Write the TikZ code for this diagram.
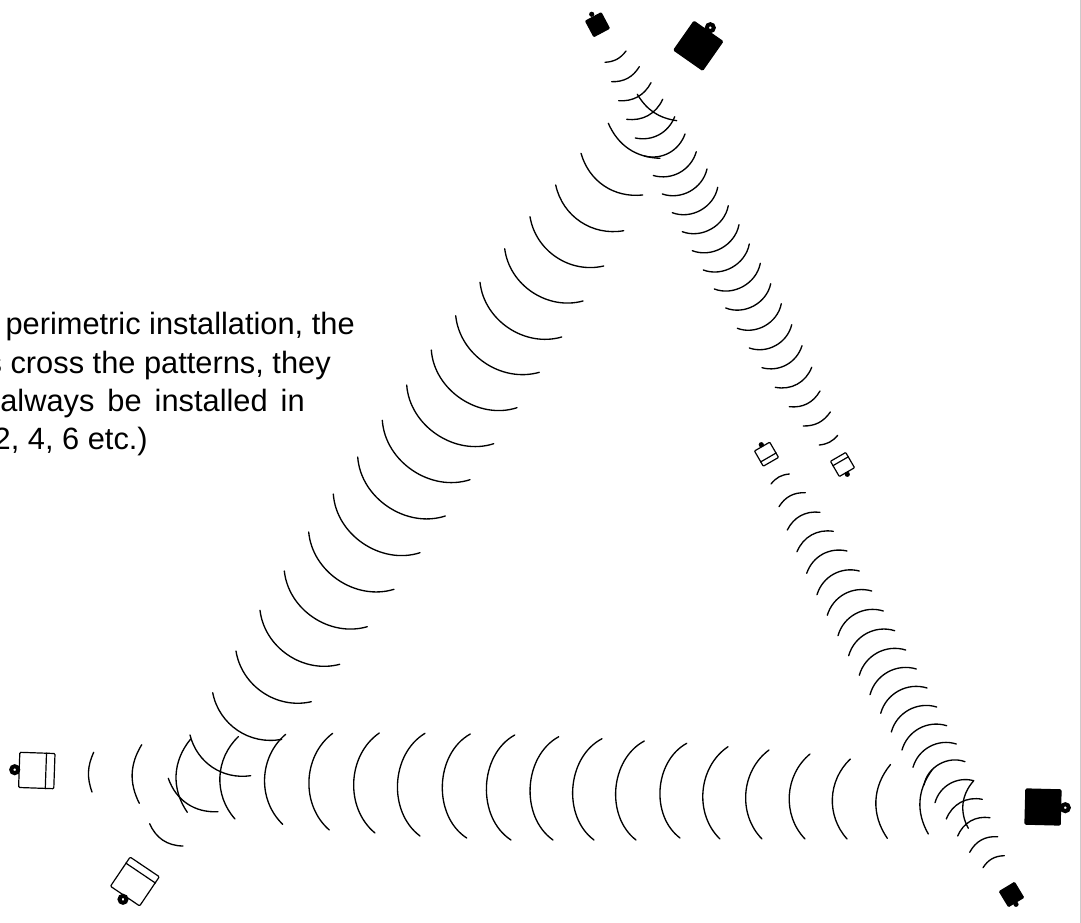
\documentclass[tikz,border=0pt]{standalone}
\usepackage{fontspec}
\setmainfont{Liberation Sans}
\usetikzlibrary{calc}

\begin{document}
\begin{tikzpicture}[
    x=0.75pt, y=-0.75pt,
    wave/.style={line width=1pt, line cap=round},
    bigbox/.style={draw, line width=0.9pt, rounded corners=0.8pt, minimum size=26.4pt, inner sep=0pt},
    smallbox/.style={draw, line width=0.9pt, rounded corners=0.6pt, minimum size=13.2pt, inner sep=0pt},
    bigterm/.style={circle, draw, fill=white, line width=3pt, minimum size=5.2pt, inner sep=0pt},
    smallterm/.style={circle, fill=black, minimum size=3.9pt, inner sep=0pt},
    notetext/.style={anchor=base east, inner sep=0pt, font=\fontsize{23.1pt}{28pt}\selectfont}
]
\useasboundingbox (0,0) rectangle (1081,923);

% ── Note (cut off by the page) ──
\node[notetext] (noteone) at (355,335) {perimetric installation, the};
\node[notetext] (notetwo) at (331,373.3) {s cross the patterns, they};
\node[notetext] (notethree) at (305,411.7) {\spaceskip=9.75pt always be installed in};
\node[notetext] (notefour) at (148,449) {2, 4, 6 etc.)};

% ── Left side beam ──
\foreach \xa/\ya/\xb/\yb/\ang in {
    637.3/94.3/676.7/120.7/25, 608.3/123.3/660/158.3/32, 581/153.3/642.7/195/40,
    555.7/185/623.7/230.7/44, 530/216.7/603.7/266/47, 504.7/248.7/583/301/49,
    480/282.3/561.7/337/50, 455.7/315.7/539.3/372.3/50, 431.3/350/517/407.7/52,
    406.7/385/493.7/443.7/52, 382.3/420.3/470/479.7/52, 357.7/457/445.3/516/52,
    333.3/494/420/552.7/52, 308.7/532/394/589.3/51, 284.3/571/367.3/626.7/50,
    260/610.3/339.7/664.3/49, 236/651/311.3/701.7/47, 212.7/692.7/281.7/739.3/45,
    190/735/250.7/775.7/42, 168.3/778.3/218/811.7/37, 149.7/823.7/183/846/33}
    \draw[wave] (\xa,\ya) to[bend right=\ang] (\xb,\yb);

% ── Bottom beam ──
\foreach \xa/\ya/\xb/\yb/\ang in {
    93.7/752.3/92/792/22, 141.7/744.7/139.3/803.3/29, 190.7/739/187.3/812.3/37,
    238.3/736.7/235/819/44, 285.7/734.3/282.7/824.3/48, 332.7/733.3/329.3/830/51,
    379.3/733/375/833/53, 425/733.3/420/836/56, 470.3/734/466.7/838/59,
    514.7/735/511/840/59, 558.7/736.7/553/840/58, 602/738.7/594/840/58,
    644.3/741/636/840/57, 686.7/743.3/680/838/57, 728/746.7/720/839/51,
    769/750/762/839/49, 810/754/805/839/47, 850.3/759/847/839/44,
    890.5/764.5/887.3/838.3/37, 932/770/928.3/834/33, 973.7/780.7/968.3/828.3/35}
    \draw[wave] (\xa,\ya) to[bend right=\ang] (\xb,\yb);

% ── Right side beam, top half ──
\foreach \xa/\ya/\xb/\yb/\ang in {
    605/62.3/626/51/25, 611.7/81.7/639.3/66.7/30, 618.7/100.7/651/82.7/33,
    626.7/119.3/662.7/99.3/36, 635.3/138/674.7/116.7/40, 644.3/156/685/134/42,
    653.3/175.5/696.3/151.7/45, 662.3/194/707/169/48, 672.3/212.7/717.7/187.3/50,
    682.3/231.7/728.3/205.7/50, 692.3/250.7/739/224.7/50, 703.3/270/749.3/244/50,
    714.3/289/760.3/263.3/50, 725.7/308/770.7/283.7/50, 737.3/328.3/781.3/303.7/50,
    749.3/348/791.7/324.7/48, 762/367.7/802/345.7/44, 775.3/387.3/811.7/367.3/40,
    789.3/406.7/820/391/33, 803.3/426/830.3/412/28, 819.3/445/837.7/435.3/22}
    \draw[wave] (\xa,\ya) to[bend right=\ang] (\xb,\yb);

% ── Right side beam, bottom half ──
\foreach \xa/\ya/\xb/\yb/\ang in {
    771/484/789.3/474/23, 779/506.7/805.3/492.7/30, 787.3/530/820/512.3/35,
    797/551.7/833.3/531.3/38, 806.7/573.3/847/551/42, 817/594.7/859.3/571/44,
    827.3/615.3/871.7/591/45, 838/635.7/883.3/611/46, 848.7/655.7/894.7/630.7/46,
    859.3/675.3/905.7/650/46, 870/694.7/916.3/669/46, 880.7/713.3/927/688/46,
    891.3/732/936.7/707/46, 902/750/946.7/725.7/46, 913/767.3/956.3/744/46,
    924/785/965/761.7/50, 935/802.7/973.7/780.7/45, 946.3/819/982.3/799.3/40,
    957.7/836/990/817.7/38, 969.7/852.3/997.7/836.7/33, 983/867.7/1004.3/855.7/28}
    \draw[wave] (\xa,\ya) to[bend left=\ang] (\xb,\yb);

% ── Black units ──
\node[bigbox, fill=black, rotate=-35] (unittop) at (698.3,45.8) {};
\node[bigterm] (termtop) at (710.3,27.7) {};
\node[smallbox, fill=black, rotate=28] (smalltop) at (597.5,24.7) {};
\node[smallterm] (dottop) at (591.7,14.3) {};
\node[bigbox, fill=black, rotate=-1.5] (unitright) at (1043,807) {};
\node[bigterm] (termright) at (1065.3,807.7) {};
\node[smallbox, fill=black, rotate=31] (smallright) at (1011.5,894.5) {};
\node[smallterm] (dotright) at (1016,904.3) {};

% ── White units ──
\node[bigbox, rotate=-2] (unitleft) at (36.8,770.5) {};
\node[bigterm] (termleft) at (14.7,769.7) {};
\draw[line width=0.9pt] ($(unitleft.north east)!.25!(unitleft.north west)$) -- ($(unitleft.south east)!.25!(unitleft.south west)$);
\node[bigbox, rotate=-34] (unitbottom) at (134.9,881.5) {};
\node[bigterm] (termbottom) at (123,899.3) {};
\draw[line width=0.9pt] ($(unitbottom.north west)!.22!(unitbottom.south west)$) -- ($(unitbottom.north east)!.22!(unitbottom.south east)$);
\node[smallbox, rotate=30] (smallleft) at (766.5,454.2) {};
\node[smallterm] (dotleft) at (761.3,444.7) {};
\draw[line width=0.9pt] ($(smallleft.south west)!.3!(smallleft.north west)$) -- ($(smallleft.south east)!.3!(smallleft.north east)$);
\node[smallbox, rotate=30] (smallmid) at (842.5,464.5) {};
\node[smallterm] (dotmid) at (847.3,474.3) {};
\draw[line width=0.9pt] ($(smallmid.north west)!.3!(smallmid.south west)$) -- ($(smallmid.north east)!.3!(smallmid.south east)$);

% ── Page edge ──
\draw[gray!40] (1080.4,0) -- (1080.4,923);
\end{tikzpicture}
\end{document}
